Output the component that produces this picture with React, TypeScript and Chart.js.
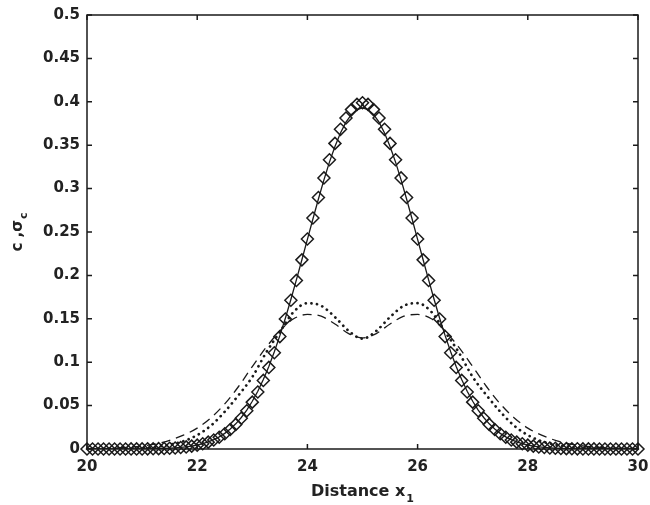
import React, { useEffect, useRef } from "react";
import { Chart, registerables } from "chart.js";
Chart.register(...registerables);

// x grid of the concentration curves (step 0.1)
const X_FINE = [
  20.0, 20.1, 20.2, 20.3, 20.4, 20.5, 20.6, 20.7, 20.8, 20.9,
  21.0, 21.1, 21.2, 21.3, 21.4, 21.5, 21.6, 21.7, 21.8, 21.9,
  22.0, 22.1, 22.2, 22.3, 22.4, 22.5, 22.6, 22.7, 22.8, 22.9,
  23.0, 23.1, 23.2, 23.3, 23.4, 23.5, 23.6, 23.7, 23.8, 23.9,
  24.0, 24.1, 24.2, 24.3, 24.4, 24.5, 24.6, 24.7, 24.8, 24.9,
  25.0,
  25.1, 25.2, 25.3, 25.4, 25.5, 25.6, 25.7, 25.8, 25.9, 26.0,
  26.1, 26.2, 26.3, 26.4, 26.5, 26.6, 26.7, 26.8, 26.9, 27.0,
  27.1, 27.2, 27.3, 27.4, 27.5, 27.6, 27.7, 27.8, 27.9, 28.0,
  28.1, 28.2, 28.3, 28.4, 28.5, 28.6, 28.7, 28.8, 28.9, 29.0,
  29.1, 29.2, 29.3, 29.4, 29.5, 29.6, 29.7, 29.8, 29.9, 30.0,
];

// diamonds
const C_EXACT = [
  0, 0, 0, 0, 0, 0, 0, 0, 0.0001, 0.0001,
  0.0001, 0.0002, 0.0003, 0.0004, 0.0006, 0.0009, 0.0012, 0.0017, 0.0024, 0.0033,
  0.0044, 0.006, 0.0079, 0.0104, 0.0136, 0.0175, 0.0224, 0.0283, 0.0355, 0.044,
  0.054, 0.0656, 0.079, 0.094, 0.1109, 0.1295, 0.1497, 0.1714, 0.1942, 0.2179,
  0.242, 0.2661, 0.2897, 0.3123, 0.3332, 0.3521, 0.3683, 0.3814, 0.391, 0.397,
  0.3989,
  0.397, 0.391, 0.3814, 0.3683, 0.3521, 0.3332, 0.3123, 0.2897, 0.2661, 0.242,
  0.2179, 0.1942, 0.1714, 0.1497, 0.1295, 0.1109, 0.094, 0.079, 0.0656, 0.054,
  0.044, 0.0355, 0.0283, 0.0224, 0.0175, 0.0136, 0.0104, 0.0079, 0.006, 0.0044,
  0.0033, 0.0024, 0.0017, 0.0012, 0.0009, 0.0006, 0.0004, 0.0003, 0.0002, 0.0001,
  0.0001, 0.0001, 0, 0, 0, 0, 0, 0, 0, 0,
];

// solid line
const C_MEAN = [
  0, 0, 0, 0, 0, 0, 0, 0.0001, 0.0001, 0.0001,
  0.0001, 0.0002, 0.0003, 0.0004, 0.0006, 0.0009, 0.0013, 0.0018, 0.0025, 0.0034,
  0.0046, 0.0062, 0.0082, 0.0108, 0.014, 0.018, 0.023, 0.029, 0.0363, 0.0449,
  0.055, 0.0666, 0.08, 0.0951, 0.112, 0.1306, 0.1507, 0.1722, 0.1948, 0.218,
  0.2415, 0.265, 0.288, 0.31, 0.3305, 0.3485, 0.364, 0.3765, 0.3855, 0.391,
  0.393,
  0.391, 0.3855, 0.3765, 0.364, 0.3485, 0.3305, 0.31, 0.288, 0.265, 0.2415,
  0.218, 0.1948, 0.1722, 0.1507, 0.1306, 0.112, 0.0951, 0.08, 0.0666, 0.055,
  0.0449, 0.0363, 0.029, 0.023, 0.018, 0.014, 0.0108, 0.0082, 0.0062, 0.0046,
  0.0034, 0.0025, 0.0018, 0.0013, 0.0009, 0.0006, 0.0004, 0.0003, 0.0002, 0.0001,
  0.0001, 0.0001, 0.0001, 0, 0, 0, 0, 0, 0, 0,
];

// x grid of the standard deviation curves (step 0.25)
const X_COARSE = [
  20, 20.25, 20.5, 20.75, 21, 21.25, 21.5, 21.75, 22, 22.25,
  22.5, 22.75, 23, 23.25, 23.5, 23.75, 24, 24.25, 24.5, 24.75,
  25,
  25.25, 25.5, 25.75, 26, 26.25, 26.5, 26.75, 27, 27.25, 27.5,
  27.75, 28, 28.25, 28.5, 28.75, 29, 29.25, 29.5, 29.75, 30,
];

// dotted
const SIGMA_DOT = [
  0, 0.0001, 0.0002, 0.0005, 0.001, 0.0025, 0.005, 0.009, 0.016, 0.027,
  0.043, 0.062, 0.083, 0.111, 0.135, 0.158, 0.168, 0.165, 0.152, 0.136,
  0.127,
  0.136, 0.152, 0.165, 0.168, 0.158, 0.135, 0.111, 0.083, 0.062, 0.043,
  0.027, 0.016, 0.009, 0.005, 0.0025, 0.001, 0.0005, 0.0002, 0.0001, 0,
];

// dashed
const SIGMA_DASH = [
  0.0002, 0.0005, 0.001, 0.002, 0.0035, 0.006, 0.01, 0.016, 0.024, 0.036,
  0.052, 0.072, 0.095, 0.117, 0.136, 0.15, 0.155, 0.153, 0.144, 0.133,
  0.128,
  0.133, 0.144, 0.153, 0.155, 0.15, 0.136, 0.117, 0.095, 0.072, 0.052,
  0.036, 0.024, 0.016, 0.01, 0.006, 0.0035, 0.002, 0.001, 0.0005, 0.0002,
];

const X_TICKS = [20, 22, 24, 26, 28, 30];
const X_TICK_LABELS = ["20", "22", "24", "26", "28", "30"];
const Y_TICKS = [0, 0.05, 0.1, 0.15, 0.2, 0.25, 0.3, 0.35, 0.4, 0.45, 0.5];
const Y_TICK_LABELS = ["0", "0.05", "0.1", "0.15", "0.2", "0.25", "0.3", "0.35", "0.4", "0.45", "0.5"];

const X_TITLE = "Distance x";
const X_TITLE_SUB = "1";
const Y_TITLE = "c ,σ";
const Y_TITLE_SUB = "c";

const INK = "#1a1a1a";
const TEXT = "#222222";
const FONT = "'DejaVu Sans', 'Liberation Sans', sans-serif";

const pts = (xs: number[], ys: number[]) => xs.map((x, i) => ({ x, y: ys[i] }));

const framePlugin = {
  id: "frame",
  afterDraw(chart: any) {
    const { ctx, chartArea } = chart;
    const { left, right, top, bottom } = chartArea;
    const xs = chart.scales.x;
    const ys = chart.scales.y;
    ctx.save();
    ctx.strokeStyle = INK;
    ctx.lineWidth = 1.5;
    ctx.strokeRect(left, top, right - left, bottom - top);
    const tl = 5;
    ctx.beginPath();
    X_TICKS.forEach((v) => {
      const px = xs.getPixelForValue(v);
      ctx.moveTo(px, bottom);
      ctx.lineTo(px, bottom - tl);
      ctx.moveTo(px, top);
      ctx.lineTo(px, top + tl);
    });
    Y_TICKS.forEach((v) => {
      const py = ys.getPixelForValue(v);
      ctx.moveTo(left, py);
      ctx.lineTo(left + tl, py);
      ctx.moveTo(right, py);
      ctx.lineTo(right - tl, py);
    });
    ctx.stroke();

    // axis titles with subscripts
    ctx.fillStyle = TEXT;
    ctx.textBaseline = "alphabetic";
    ctx.textAlign = "left";
    const mainFont = `bold 16px ${FONT}`;
    const subFont = `bold 11px ${FONT}`;
    ctx.font = mainFont;
    const wMain = ctx.measureText(X_TITLE).width;
    ctx.font = subFont;
    const wSub = ctx.measureText(X_TITLE_SUB).width;
    const cx = (left + right) / 2;
    const startX = cx - (wMain + 1 + wSub) / 2;
    ctx.font = mainFont;
    ctx.fillText(X_TITLE, startX, 496);
    ctx.font = subFont;
    ctx.fillText(X_TITLE_SUB, startX + wMain + 1, 502);

    ctx.save();
    ctx.translate(22, (top + bottom) / 2);
    ctx.rotate(-Math.PI / 2);
    const yMain = `bold 15px ${FONT}`;
    const ySub = `bold 11px ${FONT}`;
    ctx.font = yMain;
    const ywMain = ctx.measureText(Y_TITLE).width;
    ctx.font = ySub;
    const ywSub = ctx.measureText(Y_TITLE_SUB).width;
    const sx = -(ywMain + 1 + ywSub) / 2;
    ctx.font = yMain;
    ctx.fillText(Y_TITLE, sx, 0);
    ctx.font = ySub;
    ctx.fillText(Y_TITLE_SUB, sx + ywMain + 1, 5);
    ctx.restore();
    ctx.restore();
  },
};

export default function App() {
  const ref = useRef<HTMLCanvasElement | null>(null);
  useEffect(() => {
    if (!ref.current) return;
    const chart = new Chart(ref.current, {
      type: "line",
      data: {
        datasets: [
          {
            data: pts(X_COARSE, SIGMA_DOT),
            borderColor: INK,
            borderWidth: 2.7,
            borderDash: [0.1, 5.6],
            borderCapStyle: "round",
            pointRadius: 0,
            fill: false,
            cubicInterpolationMode: "monotone",
          },
          {
            data: pts(X_COARSE, SIGMA_DASH),
            borderColor: INK,
            borderWidth: 1.3,
            borderDash: [9, 6],
            pointRadius: 0,
            fill: false,
            cubicInterpolationMode: "monotone",
          },
          {
            data: pts(X_FINE, C_MEAN),
            borderColor: INK,
            borderWidth: 1.3,
            pointRadius: 0,
            fill: false,
          },
          {
            data: pts(X_FINE, C_EXACT),
            showLine: false,
            borderColor: INK,
            backgroundColor: "rgba(0,0,0,0)",
            pointStyle: "rectRot",
            pointRadius: 6,
            pointBorderWidth: 1.5,
            clip: false,
          },
        ] as any,
      },
      options: {
        responsive: false,
        animation: false,
        devicePixelRatio: 1,
        layout: { padding: { top: 15, right: 12, left: 0, bottom: 0 } },
        plugins: { legend: { display: false }, tooltip: { enabled: false } },
        scales: {
          x: {
            type: "linear",
            min: 20,
            max: 30,
            afterBuildTicks: (s: any) => {
              s.ticks = X_TICKS.map((v) => ({ value: v }));
            },
            afterFit: (s: any) => {
              s.height = 56;
              s.paddingLeft = 0;
              s.paddingRight = 0;
            },
            ticks: {
              autoSkip: false,
              maxRotation: 0,
              padding: 9,
              color: TEXT,
              font: { family: FONT, size: 15, weight: "bold" },
              callback: (_v: any, i: number) => X_TICK_LABELS[i],
            },
            grid: { display: false, drawTicks: false },
            border: { display: false },
          },
          y: {
            type: "linear",
            min: 0,
            max: 0.5,
            afterBuildTicks: (s: any) => {
              s.ticks = Y_TICKS.map((v) => ({ value: v }));
            },
            afterFit: (s: any) => {
              s.width = 87;
              s.paddingTop = 0;
              s.paddingBottom = 0;
            },
            ticks: {
              autoSkip: false,
              padding: 7,
              color: TEXT,
              font: { family: FONT, size: 15, weight: "bold" },
              callback: (_v: any, i: number) => Y_TICK_LABELS[i],
            },
            grid: { display: false, drawTicks: false },
            border: { display: false },
          },
        },
      } as any,
      plugins: [framePlugin],
    });
    return () => chart.destroy();
  }, []);
  return (
    <div style={{ position: "absolute", left: 0, top: 0, width: 650, height: 505, background: "#fff" }}>
      <canvas ref={ref} width={650} height={505} style={{ display: "block" }} />
    </div>
  );
}
